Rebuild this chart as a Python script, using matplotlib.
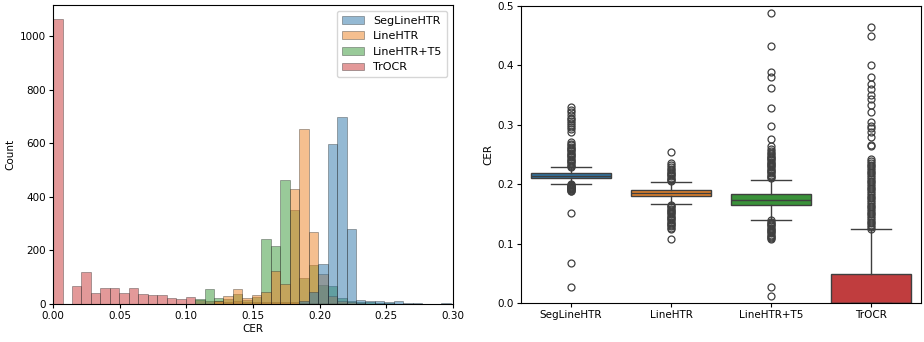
import matplotlib.pyplot as plt
import matplotlib.colors as mcolors
import colorsys

MODELS = ["SegLineHTR", "LineHTR", "LineHTR+T5", "TrOCR"]
COLORS = ["#1f77b4", "#ff7f0e", "#2ca02c", "#d62728"]

# histogram: counts per bin (bin width ~0.0071, starting at 0)
BIN_W = 0.0071
SEG_COUNTS = [0, 0, 0, 1, 0, 0, 0, 0, 0, 1, 0, 0, 0, 0, 0, 0, 0, 0, 0, 0, 0, 1,
              0, 0, 0, 0, 12, 45, 149, 597, 697, 280, 15, 11, 11, 6, 12, 4, 3, 2, 2, 3, 2]
LINE_COUNTS = [0, 0, 0, 0, 0, 0, 0, 0, 0, 0, 0, 0, 0, 0, 0, 1, 0, 10, 30, 57, 21, 34,
               46, 123, 73, 430, 652, 268, 113, 30, 12, 8, 4, 2, 0, 1, 0, 0, 0, 0, 0, 0, 0]
T5_COUNTS = [0, 1, 0, 1, 0, 0, 0, 0, 0, 0, 0, 0, 0, 0, 0, 19, 55, 21, 20, 37, 15, 25,
             242, 217, 463, 352, 97, 144, 72, 66, 22, 12, 8, 6, 4, 3, 2, 1, 1, 1, 0, 1, 1]
TROCR_COUNTS = [1062, 0, 66, 118, 41, 58, 58, 41, 58, 39, 35, 35, 23, 18, 26, 14, 12, 10,
                9, 10, 8, 8, 7, 7, 6, 6, 5, 4, 4, 3, 3, 2, 2, 2, 1, 1, 1, 2, 1, 1, 1, 1, 1]

# boxplot stats
MEDIANS = [0.2145, 0.1848, 0.1736, 0.0]
Q1S = [0.2105, 0.1792, 0.1652, 0.0]
Q3S = [0.2189, 0.1904, 0.1831, 0.0493]
WHISK_LO = [0.201, 0.1669, 0.1394, 0.0]
WHISK_HI = [0.228, 0.2044, 0.2077, 0.1237]

SEG_FLIERS = [0.027, 0.067, 0.151, 0.188, 0.189, 0.190, 0.191, 0.192, 0.193, 0.194,
              0.195, 0.196, 0.197, 0.198, 0.199, 0.200,
              0.229, 0.231, 0.233, 0.235, 0.237, 0.239, 0.241, 0.243, 0.245, 0.247,
              0.249, 0.251, 0.253, 0.255, 0.257, 0.259, 0.261, 0.263, 0.265, 0.268,
              0.271, 0.287, 0.292, 0.296, 0.300, 0.303, 0.306, 0.309, 0.312, 0.316,
              0.321, 0.325, 0.329]
LINE_FLIERS = [0.108, 0.125, 0.127, 0.129, 0.131, 0.133, 0.135, 0.137, 0.139, 0.141,
               0.143, 0.145, 0.147, 0.149, 0.151, 0.153, 0.155, 0.157, 0.159, 0.161,
               0.163, 0.165,
               0.205, 0.207, 0.209, 0.211, 0.213, 0.215, 0.217, 0.219, 0.221, 0.223,
               0.225, 0.228, 0.232, 0.235, 0.254]
T5_FLIERS = [0.012, 0.027, 0.107, 0.109, 0.111, 0.113, 0.115, 0.117, 0.119, 0.121,
             0.123, 0.125, 0.127, 0.129, 0.131, 0.133, 0.135, 0.137, 0.139,
             0.210, 0.212, 0.214, 0.216, 0.218, 0.220, 0.222, 0.224, 0.226, 0.228,
             0.230, 0.232, 0.234, 0.236, 0.238, 0.240, 0.242, 0.244, 0.246, 0.248,
             0.250, 0.253, 0.256, 0.259, 0.264, 0.276, 0.298, 0.328, 0.362, 0.381,
             0.388, 0.433, 0.488]
TROCR_FLIERS = [0.125, 0.128, 0.131, 0.134, 0.137, 0.140, 0.143, 0.146, 0.149, 0.152,
                0.155, 0.158, 0.161, 0.164, 0.167, 0.170, 0.173, 0.176, 0.179, 0.182,
                0.185, 0.188, 0.191, 0.194, 0.197, 0.200, 0.203, 0.206, 0.209, 0.212,
                0.215, 0.218, 0.221, 0.224, 0.227, 0.230, 0.233, 0.236, 0.239, 0.242,
                0.264, 0.266, 0.280, 0.288, 0.294, 0.298, 0.304, 0.322, 0.333, 0.344,
                0.350, 0.360, 0.368, 0.381, 0.400, 0.450, 0.464]


def desaturate(color, prop=0.75):
    r, g, b = mcolors.to_rgb(color)
    h, l, s = colorsys.rgb_to_hls(r, g, b)
    return colorsys.hls_to_rgb(h, l, s * prop)


plt.rcParams["font.family"] = "DejaVu Sans"
fig = plt.figure(figsize=(9.24, 3.42), dpi=100)
ax1 = fig.add_axes([0.0574, 0.111, 0.4329, 0.874])
ax2 = fig.add_axes([0.5638, 0.114, 0.4329, 0.869])

# left: layered histogram (last hue drawn first, like seaborn)
all_counts = [SEG_COUNTS, LINE_COUNTS, T5_COUNTS, TROCR_COUNTS]
edges = [i * BIN_W for i in range(len(SEG_COUNTS) + 1)]
for name, counts, color in reversed(list(zip(MODELS, all_counts, COLORS))):
    ax1.hist(edges[:-1], bins=edges, weights=counts, color=desaturate(color, 0.85),
             alpha=0.5, edgecolor="#222222", linewidth=0.5, label=name)

ax1.set_xlim(0, 0.30)
ax1.set_ylim(0, 1115)
ax1.set_xticks([0.0, 0.05, 0.10, 0.15, 0.20, 0.25, 0.30])
ax1.set_xticklabels(["0.00", "0.05", "0.10", "0.15", "0.20", "0.25", "0.30"])
ax1.set_yticks([0, 200, 400, 600, 800, 1000])
ax1.set_xlabel("CER", fontsize=7.5, labelpad=2)
ax1.set_ylabel("Count", fontsize=7.5, labelpad=3)
ax1.tick_params(labelsize=7.5, length=3, pad=2)
handles, labels = ax1.get_legend_handles_labels()
ax1.legend(handles[::-1], labels[::-1], loc="upper right", fontsize=8,
           handlelength=2.0, borderpad=0.45, labelspacing=0.5, framealpha=0.8)

# right: boxplot from read stats
fliers = [SEG_FLIERS, LINE_FLIERS, T5_FLIERS, TROCR_FLIERS]
stats = []
for i, name in enumerate(MODELS):
    stats.append({"label": name, "med": MEDIANS[i], "q1": Q1S[i], "q3": Q3S[i],
                  "whislo": WHISK_LO[i], "whishi": WHISK_HI[i], "fliers": fliers[i]})

line_c = "#3f3f3f"
bp = ax2.bxp(stats, positions=range(4), widths=0.8, patch_artist=True,
             boxprops=dict(edgecolor=line_c, linewidth=1.0),
             medianprops=dict(color=line_c, linewidth=1.0),
             whiskerprops=dict(color=line_c, linewidth=1.0),
             capprops=dict(color=line_c, linewidth=1.0),
             capwidths=0.4,
             flierprops=dict(marker="o", markerfacecolor="none",
                             markeredgecolor=line_c, markersize=5,
                             markeredgewidth=0.9))
for patch, color in zip(bp["boxes"], COLORS):
    patch.set_facecolor(desaturate(color))

ax2.set_xlim(-0.5, 3.5)
ax2.set_ylim(0, 0.5)
ax2.set_xticks(range(4))
ax2.set_xticklabels(MODELS)
ax2.set_yticks([0.0, 0.1, 0.2, 0.3, 0.4, 0.5])
ax2.set_ylabel("CER", fontsize=7.5, labelpad=3)
ax2.tick_params(labelsize=7.5, length=3, pad=2)

fig.savefig("out.png", dpi=100)
